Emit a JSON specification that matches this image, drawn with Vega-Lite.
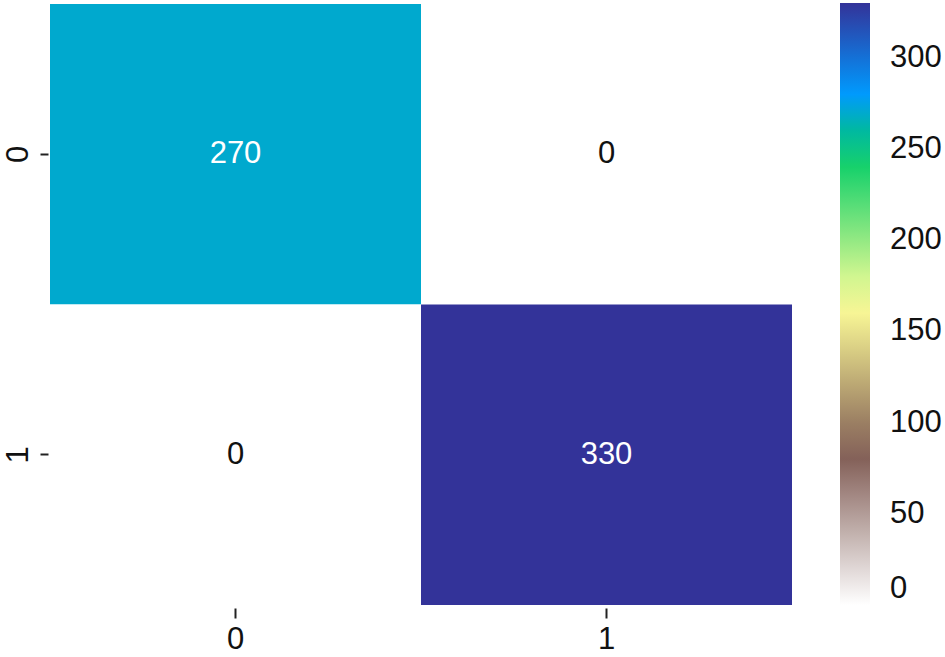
{
  "$schema": "https://vega.github.io/schema/vega-lite/v6.json",
  "width": 742,
  "height": 601,
  "autosize": {"type": "none"},
  "padding": {"left": 50, "top": 4, "right": 153, "bottom": 52},
  "background": "white",
  "config": {
    "view": {"stroke": null},
    "font": "Liberation Sans"
  },
  "data": {
    "values": [
      {"actual": "0", "predicted": "0", "count": 270},
      {"actual": "0", "predicted": "1", "count": 0},
      {"actual": "1", "predicted": "0", "count": 0},
      {"actual": "1", "predicted": "1", "count": 330}
    ]
  },
  "encoding": {
    "x": {
      "field": "predicted", "type": "nominal", "title": null,
      "scale": {"paddingInner": 0, "paddingOuter": 0},
      "axis": {
        "labelAngle": 0, "domain": false, "tickSize": 10, "tickWidth": 2, "tickColor": "#222",
        "offset": 3, "labelFontSize": 31, "labelColor": "#111", "labelPadding": 6,
        "labelFont": "Liberation Sans"
      }
    },
    "y": {
      "field": "actual", "type": "nominal", "title": null,
      "scale": {"paddingInner": 0, "paddingOuter": 0},
      "axis": {
        "labelAngle": -90, "domain": false, "tickSize": 8, "tickWidth": 2, "tickColor": "#222",
        "offset": 2, "labelFontSize": 31, "labelColor": "#111", "labelPadding": 22,
        "labelBaseline": "middle", "labelAlign": "center",
        "labelFont": "Liberation Sans"
      }
    }
  },
  "layer": [
    {
      "mark": {"type": "rect"},
      "encoding": {
        "color": {
          "field": "count", "type": "quantitative", "title": null,
          "scale": {
            "domain": [0, 82.5, 165, 247.5, 280.5, 330],
            "range": ["#ffffff", "#805c54", "#ffff99", "#00cc66", "#0099ff", "#333399"],
            "interpolate": "rgb"
          },
          "legend": {
            "orient": "none", "legendX": 790, "legendY": -1,
            "direction": "vertical",
            "gradientLength": 602, "gradientThickness": 30,
            "gradientStrokeWidth": 0,
            "values": [0, 50, 100, 150, 200, 250, 300],
            "labelFontSize": 31, "labelColor": "#111", "labelOffset": 20,
            "labelFont": "Liberation Sans",
            "padding": 0, "offset": 0
          }
        }
      }
    },
    {
      "mark": {"type": "text", "fontSize": 31, "font": "Liberation Sans"},
      "encoding": {
        "text": {"field": "count", "type": "quantitative"},
        "color": {
          "condition": {"test": "datum.count > 150", "value": "white"},
          "value": "#111"
        }
      }
    }
  ]
}
